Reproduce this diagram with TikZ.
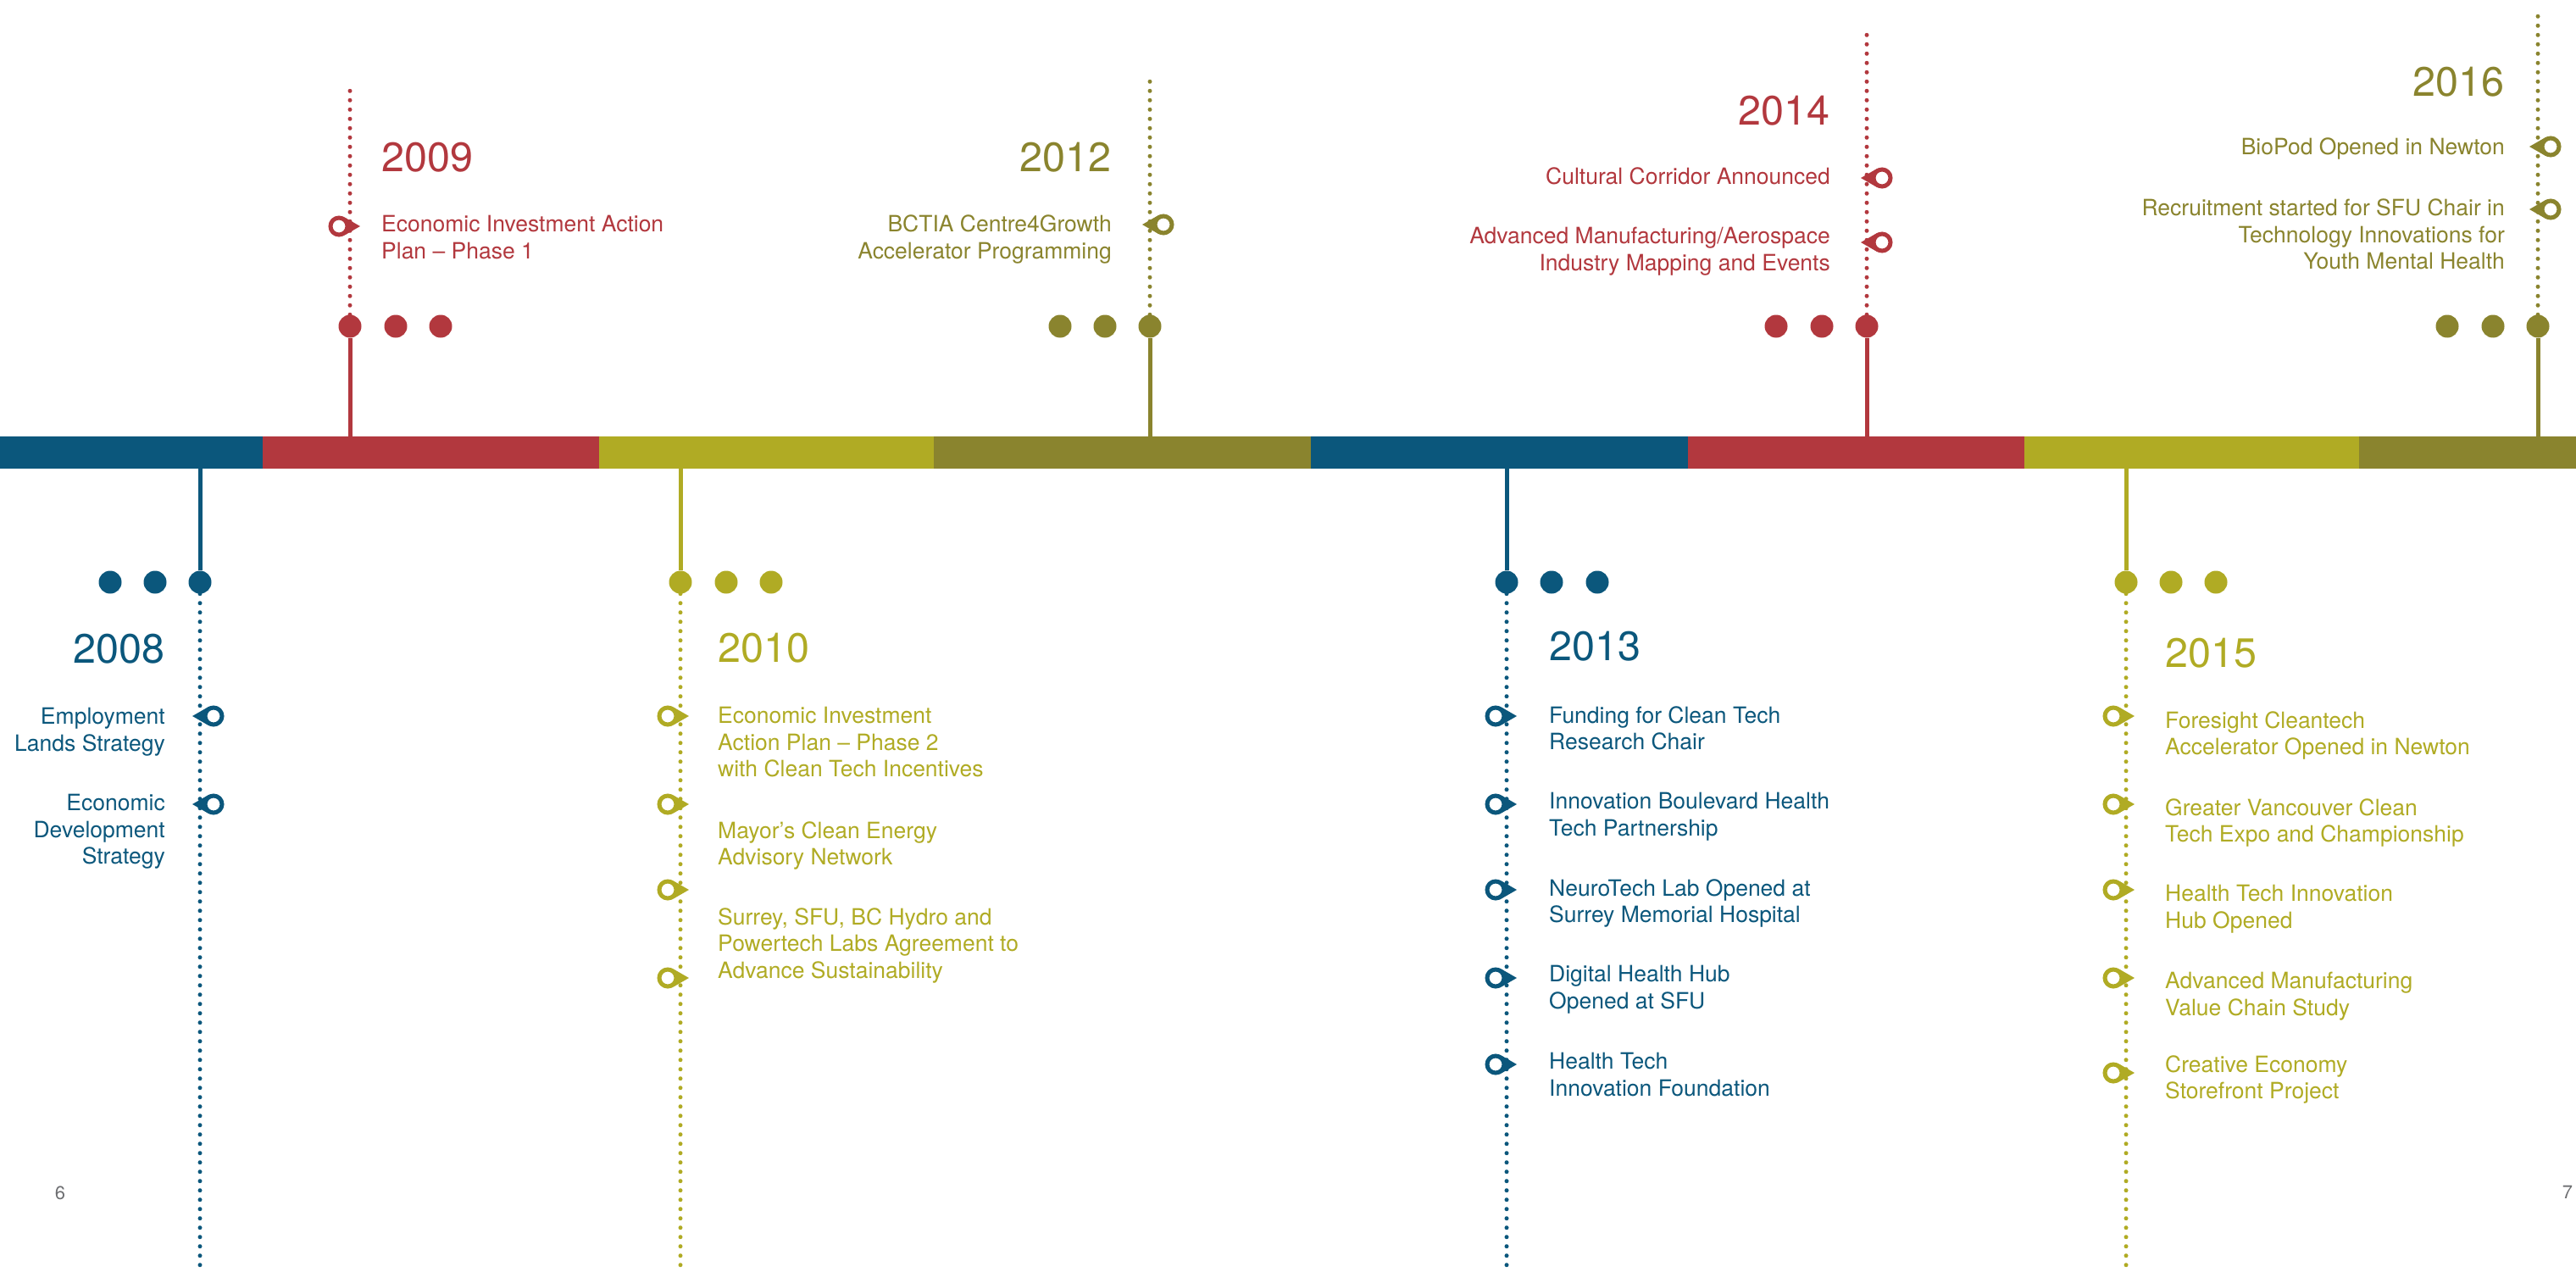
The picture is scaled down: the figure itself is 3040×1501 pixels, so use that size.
\documentclass[tikz,border=0pt]{standalone}
\usepackage{fontspec}
\setmainfont{TeX Gyre Heros}
\definecolor{sblue}{HTML}{0B577C}
\definecolor{sred}{HTML}{B2383E}
\definecolor{slime}{HTML}{B0AB24}
\definecolor{solive}{HTML}{8A842E}
\definecolor{pagegray}{HTML}{6D6E71}
\tikzset{
	bead/.style={circle, inner sep=0pt, minimum size=27pt},
	stemline/.style={line width=5pt},
	trail/.style={line width=5pt, line cap=round, dash pattern=on 0pt off 11pt},
	yearlabel/.style={inner sep=0pt, font=\fontsize{48.5}{52}\selectfont},
	eventtext/.style={inner sep=0pt, font=\fontsize{26.5}{31.5}\selectfont},
	pagenum/.style={inner sep=0pt, text=pagegray, font=\fontsize{22}{24}\selectfont},
	pinmark/.pic={
		\fill (25,0) -- (6.25,10.8) -- (6.25,-10.8) -- cycle;
		\draw[line width=5pt, fill=white] (0,0) circle (10);
	}
}
\begin{document}
\begin{tikzpicture}[x=1pt, y=-1pt]
				\useasboundingbox (0,0) rectangle (3040,1501);
				\fill[sblue] (0,515) rectangle (310,553);
				\fill[sred] (310,515) rectangle (707,553);
				\fill[slime] (707,515) rectangle (1102,553);
				\fill[solive] (1102,515) rectangle (1547,553);
				\fill[sblue] (1547,515) rectangle (1992,553);
				\fill[sred] (1992,515) rectangle (2389,553);
				\fill[slime] (2389,515) rectangle (2784,553);
				\fill[solive] (2784,515) rectangle (3040,553);

				\coordinate (b08) at (236,553);
				\coordinate (e08) at (236,1501);
				\node[bead, fill=sblue] (d08c) at (236,687) {};
				\node[bead, fill=sblue] (d08b) at (183,687) {};
				\node[bead, fill=sblue] (d08a) at (130,687) {};
				\draw[stemline, sblue] (b08) -- (d08c);
				\draw[trail, sblue] (d08c) -- (e08);
				\node[yearlabel, text=sblue, anchor=east] (y08) at (195,766) {2008};
				\node[eventtext, text=sblue, align=right, anchor=north east] (t08a) at (195,835) {Employment\\Lands Strategy};
				\node[eventtext, text=sblue, align=right, anchor=north east] (t08b) at (195,937) {Economic\\Development\\Strategy};
				\pic[sblue, rotate=180] at (252,845) {pinmark};
				\pic[sblue, rotate=180] at (252,949) {pinmark};

				\coordinate (b09) at (413,515);
				\coordinate (e09) at (413,98);
				\node[bead, fill=sred] (d09a) at (413,385) {};
				\node[bead, fill=sred] (d09b) at (467,385) {};
				\node[bead, fill=sred] (d09c) at (520,385) {};
				\draw[stemline, sred] (b09) -- (d09a);
				\draw[trail, sred] (d09a) -- (e09);
				\node[yearlabel, text=sred, anchor=west] (y09) at (450,186) {2009};
				\node[eventtext, text=sred, align=left, anchor=north west] (t09a) at (450,254) {Economic Investment Action\\Plan -- Phase 1};
				\pic[sred] at (400,267) {pinmark};

				\coordinate (b10) at (803,553);
				\coordinate (e10) at (803,1501);
				\node[bead, fill=slime] (d10a) at (803,687) {};
				\node[bead, fill=slime] (d10b) at (857,687) {};
				\node[bead, fill=slime] (d10c) at (910,687) {};
				\draw[stemline, slime] (b10) -- (d10a);
				\draw[trail, slime] (d10a) -- (e10);
				\node[yearlabel, text=slime, anchor=west] (y10) at (847,765) {2010};
				\node[eventtext, text=slime, align=left, anchor=north west] (t10a) at (847,834) {Economic Investment\\Action Plan -- Phase 2\\with Clean Tech Incentives};
				\node[eventtext, text=slime, align=left, anchor=north west] (t10b) at (847,969) {Mayor's Clean Energy\\Advisory Network};
				\node[eventtext, text=slime, align=left, anchor=north west] (t10c) at (847,1071) {Surrey, SFU, BC Hydro and\\Powertech Labs Agreement to\\Advance Sustainability};
				\pic[slime] at (788,845) {pinmark};
				\pic[slime] at (788,949) {pinmark};
				\pic[slime] at (788,1050) {pinmark};
				\pic[slime] at (788,1154) {pinmark};

				\coordinate (b12) at (1357,515);
				\coordinate (e12) at (1357,92);
				\node[bead, fill=solive] (d12c) at (1357,385) {};
				\node[bead, fill=solive] (d12b) at (1304,385) {};
				\node[bead, fill=solive] (d12a) at (1251,385) {};
				\draw[stemline, solive] (b12) -- (d12c);
				\draw[trail, solive] (d12c) -- (e12);
				\node[yearlabel, text=solive, anchor=east] (y12) at (1312,186) {2012};
				\node[eventtext, text=solive, align=right, anchor=north east] (t12a) at (1312,254) {BCTIA Centre4Growth\\Accelerator Programming};
				\pic[solive, rotate=180] at (1373,265) {pinmark};

				\coordinate (b13) at (1778,553);
				\coordinate (e13) at (1778,1501);
				\node[bead, fill=sblue] (d13a) at (1778,687) {};
				\node[bead, fill=sblue] (d13b) at (1831,687) {};
				\node[bead, fill=sblue] (d13c) at (1885,687) {};
				\draw[stemline, sblue] (b13) -- (d13a);
				\draw[trail, sblue] (d13a) -- (e13);
				\node[yearlabel, text=sblue, anchor=west] (y13) at (1828,763) {2013};
				\node[eventtext, text=sblue, align=left, anchor=north west] (t13a) at (1828,833) {Funding for Clean Tech\\Research Chair};
				\node[eventtext, text=sblue, align=left, anchor=north west] (t13b) at (1828,935) {Innovation Boulevard Health\\Tech Partnership};
				\node[eventtext, text=sblue, align=left, anchor=north west] (t13c) at (1828,1037) {NeuroTech Lab Opened at\\Surrey Memorial Hospital};
				\node[eventtext, text=sblue, align=left, anchor=north west] (t13d) at (1828,1139) {Digital Health Hub\\Opened at SFU};
				\node[eventtext, text=sblue, align=left, anchor=north west] (t13e) at (1828,1242) {Health Tech\\Innovation Foundation};
				\pic[sblue] at (1765,845) {pinmark};
				\pic[sblue] at (1765,949) {pinmark};
				\pic[sblue] at (1765,1050) {pinmark};
				\pic[sblue] at (1765,1154) {pinmark};
				\pic[sblue] at (1765,1256) {pinmark};

				\coordinate (b14) at (2203,515);
				\coordinate (e14) at (2203,35);
				\node[bead, fill=sred] (d14c) at (2203,385) {};
				\node[bead, fill=sred] (d14b) at (2150,385) {};
				\node[bead, fill=sred] (d14a) at (2096,385) {};
				\draw[stemline, sred] (b14) -- (d14c);
				\draw[trail, sred] (d14c) -- (e14);
				\node[yearlabel, text=sred, anchor=east] (y14) at (2160,131) {2014};
				\node[eventtext, text=sred, align=right, anchor=north east] (t14a) at (2160,198) {Cultural Corridor Announced};
				\node[eventtext, text=sred, align=right, anchor=north east] (t14b) at (2160,268) {Advanced Manufacturing/Aerospace\\Industry Mapping and Events};
				\pic[sred, rotate=180] at (2221,210) {pinmark};
				\pic[sred, rotate=180] at (2221,286) {pinmark};

				\coordinate (b15) at (2509,553);
				\coordinate (e15) at (2509,1501);
				\node[bead, fill=slime] (d15a) at (2509,687) {};
				\node[bead, fill=slime] (d15b) at (2562,687) {};
				\node[bead, fill=slime] (d15c) at (2615,687) {};
				\draw[stemline, slime] (b15) -- (d15a);
				\draw[trail, slime] (d15a) -- (e15);
				\node[yearlabel, text=slime, anchor=west] (y15) at (2555,771) {2015};
				\node[eventtext, text=slime, align=left, anchor=north west] (t15a) at (2555,839) {Foresight Cleantech\\Accelerator Opened in Newton};
				\node[eventtext, text=slime, align=left, anchor=north west] (t15b) at (2555,942) {Greater Vancouver Clean\\Tech Expo and Championship};
				\node[eventtext, text=slime, align=left, anchor=north west] (t15c) at (2555,1044) {Health Tech Innovation\\Hub Opened};
				\node[eventtext, text=slime, align=left, anchor=north west] (t15d) at (2555,1147) {Advanced Manufacturing\\Value Chain Study};
				\node[eventtext, text=slime, align=left, anchor=north west] (t15e) at (2555,1245) {Creative Economy\\Storefront Project};
				\pic[slime] at (2494,845) {pinmark};
				\pic[slime] at (2494,949) {pinmark};
				\pic[slime] at (2494,1050) {pinmark};
				\pic[slime] at (2494,1154) {pinmark};
				\pic[slime] at (2494,1266) {pinmark};

				\coordinate (b16) at (2995,515);
				\coordinate (e16) at (2995,12);
				\node[bead, fill=solive] (d16c) at (2995,385) {};
				\node[bead, fill=solive] (d16b) at (2942,385) {};
				\node[bead, fill=solive] (d16a) at (2888,385) {};
				\draw[stemline, solive] (b16) -- (d16c);
				\draw[trail, solive] (d16c) -- (e16);
				\node[yearlabel, text=solive, anchor=east] (y16) at (2956,97) {2016};
				\node[eventtext, text=solive, align=right, anchor=north east] (t16a) at (2956,163) {BioPod Opened in Newton};
				\node[eventtext, text=solive, align=right, anchor=north east] (t16b) at (2956,235) {Recruitment started for SFU Chair in\\Technology Innovations for\\Youth Mental Health};
				\pic[solive, rotate=180] at (3010,173) {pinmark};
				\pic[solive, rotate=180] at (3010,247) {pinmark};

				\node[pagenum] (p6) at (71,1408) {6};
				\node[pagenum] (p7) at (3030,1407) {7};
			\end{tikzpicture}
\end{document}
